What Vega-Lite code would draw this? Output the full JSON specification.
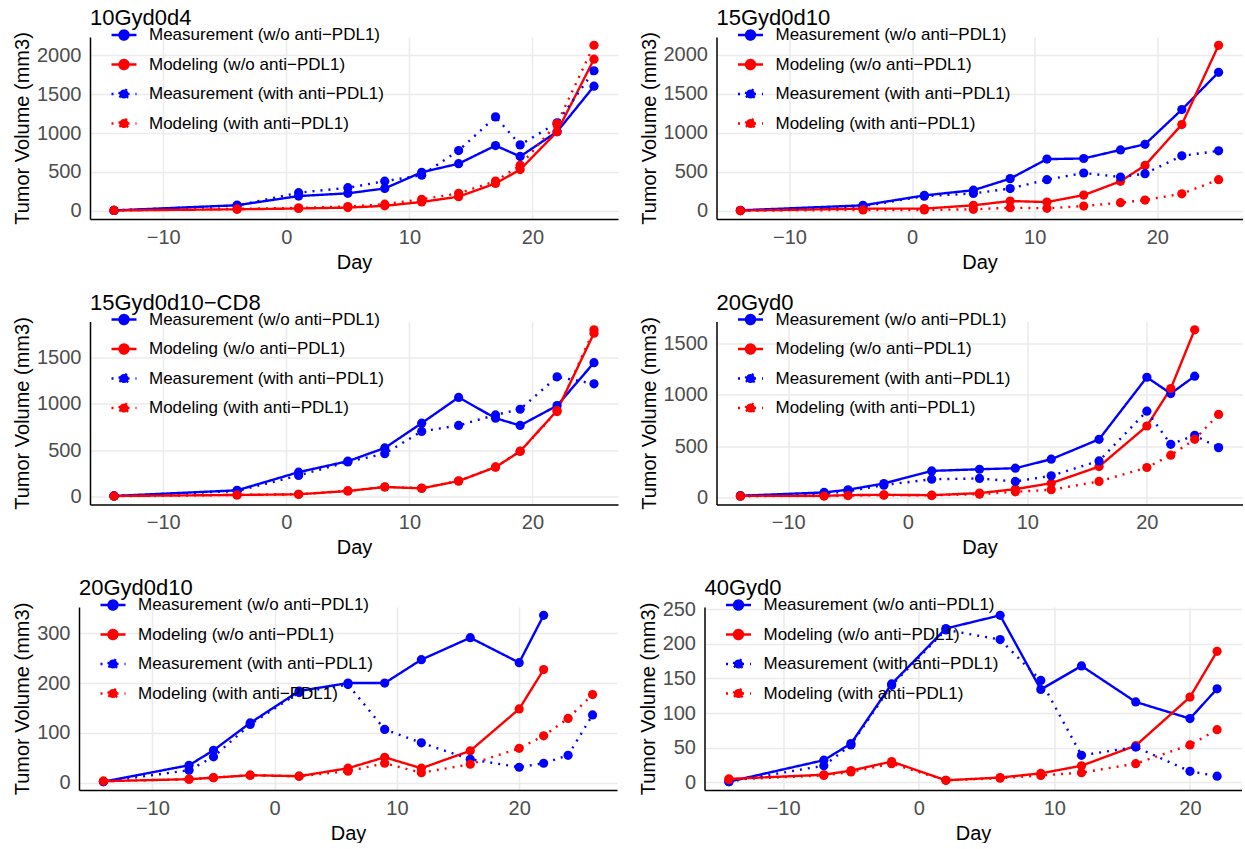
{
"$schema": "https://vega.github.io/schema/vega-lite/v6.json",
"padding": {"left": -9.5, "top": 7, "right": 0, "bottom": 0},
"background": "white",
"config": {
 "view": {"stroke": null},
 "font": "Liberation Sans",
 "axis": {"ticks": false, "tickSize": 0, "domainColor": "black", "domainWidth": 1.5, "labelFontSize": 20, "labelColor": "#4D4D4D", "labelFont": "Liberation Sans", "titleFont": "Liberation Sans", "titleFontSize": 20, "titleFontWeight": "normal", "titleColor": "black", "gridColor": "#EBEBEB", "labelFlush": false, "labelOverlap": false},
 "axisX": {"labelPadding": 8, "titlePadding": 5},
 "axisY": {"labelPadding": 9, "titlePadding": 4},
 "legend": {"labelFontSize": 17, "labelColor": "black", "labelFont": "Liberation Sans", "symbolType": "M-1,0L1,0M-0.36,0A0.36,0.36,0,1,1,0.36,0A0.36,0.36,0,1,1,-0.36,0Z", "symbolSize": 625, "symbolStrokeWidth": 2.4, "rowPadding": 5.5, "labelOffset": 11, "padding": 0, "labelLimit": 500},
 "title": {"fontSize": 22, "fontWeight": "normal", "anchor": "start", "frame": "group", "offset": -9, "baseline": "alphabetic", "color": "black", "font": "Liberation Sans"}
},
"data": {"values": [
{"panel":"10Gyd0d4","series":"Measurement (w/o anti−PDL1)","day":-14,"volume":5},
{"panel":"10Gyd0d4","series":"Measurement (w/o anti−PDL1)","day":-4,"volume":72},
{"panel":"10Gyd0d4","series":"Measurement (w/o anti−PDL1)","day":1,"volume":190},
{"panel":"10Gyd0d4","series":"Measurement (w/o anti−PDL1)","day":5,"volume":225},
{"panel":"10Gyd0d4","series":"Measurement (w/o anti−PDL1)","day":8,"volume":288},
{"panel":"10Gyd0d4","series":"Measurement (w/o anti−PDL1)","day":11,"volume":496},
{"panel":"10Gyd0d4","series":"Measurement (w/o anti−PDL1)","day":14,"volume":606},
{"panel":"10Gyd0d4","series":"Measurement (w/o anti−PDL1)","day":17,"volume":839},
{"panel":"10Gyd0d4","series":"Measurement (w/o anti−PDL1)","day":19,"volume":699},
{"panel":"10Gyd0d4","series":"Measurement (w/o anti−PDL1)","day":22,"volume":1017},
{"panel":"10Gyd0d4","series":"Measurement (w/o anti−PDL1)","day":25,"volume":1602},
{"panel":"10Gyd0d4","series":"Modeling (w/o anti−PDL1)","day":-14,"volume":5},
{"panel":"10Gyd0d4","series":"Modeling (w/o anti−PDL1)","day":-4,"volume":20},
{"panel":"10Gyd0d4","series":"Modeling (w/o anti−PDL1)","day":1,"volume":30},
{"panel":"10Gyd0d4","series":"Modeling (w/o anti−PDL1)","day":5,"volume":42},
{"panel":"10Gyd0d4","series":"Modeling (w/o anti−PDL1)","day":8,"volume":64},
{"panel":"10Gyd0d4","series":"Modeling (w/o anti−PDL1)","day":11,"volume":114},
{"panel":"10Gyd0d4","series":"Modeling (w/o anti−PDL1)","day":14,"volume":182},
{"panel":"10Gyd0d4","series":"Modeling (w/o anti−PDL1)","day":17,"volume":352},
{"panel":"10Gyd0d4","series":"Modeling (w/o anti−PDL1)","day":19,"volume":530},
{"panel":"10Gyd0d4","series":"Modeling (w/o anti−PDL1)","day":22,"volume":1017},
{"panel":"10Gyd0d4","series":"Modeling (w/o anti−PDL1)","day":25,"volume":1950},
{"panel":"10Gyd0d4","series":"Measurement (with anti−PDL1)","day":-14,"volume":5},
{"panel":"10Gyd0d4","series":"Measurement (with anti−PDL1)","day":-4,"volume":68},
{"panel":"10Gyd0d4","series":"Measurement (with anti−PDL1)","day":1,"volume":233},
{"panel":"10Gyd0d4","series":"Measurement (with anti−PDL1)","day":5,"volume":297},
{"panel":"10Gyd0d4","series":"Measurement (with anti−PDL1)","day":8,"volume":381},
{"panel":"10Gyd0d4","series":"Measurement (with anti−PDL1)","day":11,"volume":458},
{"panel":"10Gyd0d4","series":"Measurement (with anti−PDL1)","day":14,"volume":775},
{"panel":"10Gyd0d4","series":"Measurement (with anti−PDL1)","day":17,"volume":1208},
{"panel":"10Gyd0d4","series":"Measurement (with anti−PDL1)","day":19,"volume":848},
{"panel":"10Gyd0d4","series":"Measurement (with anti−PDL1)","day":22,"volume":1131},
{"panel":"10Gyd0d4","series":"Measurement (with anti−PDL1)","day":25,"volume":1801},
{"panel":"10Gyd0d4","series":"Modeling (with anti−PDL1)","day":-14,"volume":5},
{"panel":"10Gyd0d4","series":"Modeling (with anti−PDL1)","day":-4,"volume":25},
{"panel":"10Gyd0d4","series":"Modeling (with anti−PDL1)","day":1,"volume":38},
{"panel":"10Gyd0d4","series":"Modeling (with anti−PDL1)","day":5,"volume":55},
{"panel":"10Gyd0d4","series":"Modeling (with anti−PDL1)","day":8,"volume":85},
{"panel":"10Gyd0d4","series":"Modeling (with anti−PDL1)","day":11,"volume":148},
{"panel":"10Gyd0d4","series":"Modeling (with anti−PDL1)","day":14,"volume":225},
{"panel":"10Gyd0d4","series":"Modeling (with anti−PDL1)","day":17,"volume":382},
{"panel":"10Gyd0d4","series":"Modeling (with anti−PDL1)","day":19,"volume":585},
{"panel":"10Gyd0d4","series":"Modeling (with anti−PDL1)","day":22,"volume":1123},
{"panel":"10Gyd0d4","series":"Modeling (with anti−PDL1)","day":25,"volume":2129},

{"panel":"15Gyd0d10","series":"Measurement (w/o anti−PDL1)","day":-14,"volume":8},
{"panel":"15Gyd0d10","series":"Measurement (w/o anti−PDL1)","day":-4,"volume":72},
{"panel":"15Gyd0d10","series":"Measurement (w/o anti−PDL1)","day":1,"volume":199},
{"panel":"15Gyd0d10","series":"Measurement (w/o anti−PDL1)","day":5,"volume":266},
{"panel":"15Gyd0d10","series":"Measurement (w/o anti−PDL1)","day":8,"volume":414},
{"panel":"15Gyd0d10","series":"Measurement (w/o anti−PDL1)","day":11,"volume":664},
{"panel":"15Gyd0d10","series":"Measurement (w/o anti−PDL1)","day":14,"volume":672},
{"panel":"15Gyd0d10","series":"Measurement (w/o anti−PDL1)","day":17,"volume":782},
{"panel":"15Gyd0d10","series":"Measurement (w/o anti−PDL1)","day":19,"volume":854},
{"panel":"15Gyd0d10","series":"Measurement (w/o anti−PDL1)","day":22,"volume":1298},
{"panel":"15Gyd0d10","series":"Measurement (w/o anti−PDL1)","day":25,"volume":1776},
{"panel":"15Gyd0d10","series":"Modeling (w/o anti−PDL1)","day":-14,"volume":5},
{"panel":"15Gyd0d10","series":"Modeling (w/o anti−PDL1)","day":-4,"volume":30},
{"panel":"15Gyd0d10","series":"Modeling (w/o anti−PDL1)","day":1,"volume":30},
{"panel":"15Gyd0d10","series":"Modeling (w/o anti−PDL1)","day":5,"volume":72},
{"panel":"15Gyd0d10","series":"Modeling (w/o anti−PDL1)","day":8,"volume":127},
{"panel":"15Gyd0d10","series":"Modeling (w/o anti−PDL1)","day":11,"volume":114},
{"panel":"15Gyd0d10","series":"Modeling (w/o anti−PDL1)","day":14,"volume":203},
{"panel":"15Gyd0d10","series":"Modeling (w/o anti−PDL1)","day":17,"volume":380},
{"panel":"15Gyd0d10","series":"Modeling (w/o anti−PDL1)","day":19,"volume":583},
{"panel":"15Gyd0d10","series":"Modeling (w/o anti−PDL1)","day":22,"volume":1107},
{"panel":"15Gyd0d10","series":"Modeling (w/o anti−PDL1)","day":25,"volume":2122},
{"panel":"15Gyd0d10","series":"Measurement (with anti−PDL1)","day":-14,"volume":5},
{"panel":"15Gyd0d10","series":"Measurement (with anti−PDL1)","day":-4,"volume":60},
{"panel":"15Gyd0d10","series":"Measurement (with anti−PDL1)","day":1,"volume":190},
{"panel":"15Gyd0d10","series":"Measurement (with anti−PDL1)","day":5,"volume":224},
{"panel":"15Gyd0d10","series":"Measurement (with anti−PDL1)","day":8,"volume":287},
{"panel":"15Gyd0d10","series":"Measurement (with anti−PDL1)","day":11,"volume":401},
{"panel":"15Gyd0d10","series":"Measurement (with anti−PDL1)","day":14,"volume":486},
{"panel":"15Gyd0d10","series":"Measurement (with anti−PDL1)","day":17,"volume":435},
{"panel":"15Gyd0d10","series":"Measurement (with anti−PDL1)","day":19,"volume":478},
{"panel":"15Gyd0d10","series":"Measurement (with anti−PDL1)","day":22,"volume":706},
{"panel":"15Gyd0d10","series":"Measurement (with anti−PDL1)","day":25,"volume":770},
{"panel":"15Gyd0d10","series":"Modeling (with anti−PDL1)","day":-14,"volume":3},
{"panel":"15Gyd0d10","series":"Modeling (with anti−PDL1)","day":-4,"volume":13},
{"panel":"15Gyd0d10","series":"Modeling (with anti−PDL1)","day":1,"volume":13},
{"panel":"15Gyd0d10","series":"Modeling (with anti−PDL1)","day":5,"volume":21},
{"panel":"15Gyd0d10","series":"Modeling (with anti−PDL1)","day":8,"volume":42},
{"panel":"15Gyd0d10","series":"Modeling (with anti−PDL1)","day":11,"volume":34},
{"panel":"15Gyd0d10","series":"Modeling (with anti−PDL1)","day":14,"volume":63},
{"panel":"15Gyd0d10","series":"Modeling (with anti−PDL1)","day":17,"volume":106},
{"panel":"15Gyd0d10","series":"Modeling (with anti−PDL1)","day":19,"volume":140},
{"panel":"15Gyd0d10","series":"Modeling (with anti−PDL1)","day":22,"volume":220},
{"panel":"15Gyd0d10","series":"Modeling (with anti−PDL1)","day":25,"volume":401},

{"panel":"15Gyd0d10-CD8","series":"Measurement (w/o anti−PDL1)","day":-14,"volume":7},
{"panel":"15Gyd0d10-CD8","series":"Measurement (w/o anti−PDL1)","day":-4,"volume":68},
{"panel":"15Gyd0d10-CD8","series":"Measurement (w/o anti−PDL1)","day":1,"volume":264},
{"panel":"15Gyd0d10-CD8","series":"Measurement (w/o anti−PDL1)","day":5,"volume":382},
{"panel":"15Gyd0d10-CD8","series":"Measurement (w/o anti−PDL1)","day":8,"volume":525},
{"panel":"15Gyd0d10-CD8","series":"Measurement (w/o anti−PDL1)","day":11,"volume":793},
{"panel":"15Gyd0d10-CD8","series":"Measurement (w/o anti−PDL1)","day":14,"volume":1071},
{"panel":"15Gyd0d10-CD8","series":"Measurement (w/o anti−PDL1)","day":17,"volume":846},
{"panel":"15Gyd0d10-CD8","series":"Measurement (w/o anti−PDL1)","day":19,"volume":768},
{"panel":"15Gyd0d10-CD8","series":"Measurement (w/o anti−PDL1)","day":22,"volume":982},
{"panel":"15Gyd0d10-CD8","series":"Measurement (w/o anti−PDL1)","day":25,"volume":1446},
{"panel":"15Gyd0d10-CD8","series":"Modeling (w/o anti−PDL1)","day":-14,"volume":7},
{"panel":"15Gyd0d10-CD8","series":"Modeling (w/o anti−PDL1)","day":-4,"volume":18},
{"panel":"15Gyd0d10-CD8","series":"Modeling (w/o anti−PDL1)","day":1,"volume":25},
{"panel":"15Gyd0d10-CD8","series":"Modeling (w/o anti−PDL1)","day":5,"volume":61},
{"panel":"15Gyd0d10-CD8","series":"Modeling (w/o anti−PDL1)","day":8,"volume":104},
{"panel":"15Gyd0d10-CD8","series":"Modeling (w/o anti−PDL1)","day":11,"volume":89},
{"panel":"15Gyd0d10-CD8","series":"Modeling (w/o anti−PDL1)","day":14,"volume":168},
{"panel":"15Gyd0d10-CD8","series":"Modeling (w/o anti−PDL1)","day":17,"volume":318},
{"panel":"15Gyd0d10-CD8","series":"Modeling (w/o anti−PDL1)","day":19,"volume":489},
{"panel":"15Gyd0d10-CD8","series":"Modeling (w/o anti−PDL1)","day":22,"volume":929},
{"panel":"15Gyd0d10-CD8","series":"Modeling (w/o anti−PDL1)","day":25,"volume":1764},
{"panel":"15Gyd0d10-CD8","series":"Measurement (with anti−PDL1)","day":-14,"volume":7},
{"panel":"15Gyd0d10-CD8","series":"Measurement (with anti−PDL1)","day":-4,"volume":60},
{"panel":"15Gyd0d10-CD8","series":"Measurement (with anti−PDL1)","day":1,"volume":229},
{"panel":"15Gyd0d10-CD8","series":"Measurement (with anti−PDL1)","day":5,"volume":375},
{"panel":"15Gyd0d10-CD8","series":"Measurement (with anti−PDL1)","day":8,"volume":464},
{"panel":"15Gyd0d10-CD8","series":"Measurement (with anti−PDL1)","day":11,"volume":704},
{"panel":"15Gyd0d10-CD8","series":"Measurement (with anti−PDL1)","day":14,"volume":768},
{"panel":"15Gyd0d10-CD8","series":"Measurement (with anti−PDL1)","day":17,"volume":882},
{"panel":"15Gyd0d10-CD8","series":"Measurement (with anti−PDL1)","day":19,"volume":943},
{"panel":"15Gyd0d10-CD8","series":"Measurement (with anti−PDL1)","day":22,"volume":1293},
{"panel":"15Gyd0d10-CD8","series":"Measurement (with anti−PDL1)","day":25,"volume":1218},
{"panel":"15Gyd0d10-CD8","series":"Modeling (with anti−PDL1)","day":-14,"volume":5},
{"panel":"15Gyd0d10-CD8","series":"Modeling (with anti−PDL1)","day":-4,"volume":18},
{"panel":"15Gyd0d10-CD8","series":"Modeling (with anti−PDL1)","day":1,"volume":25},
{"panel":"15Gyd0d10-CD8","series":"Modeling (with anti−PDL1)","day":5,"volume":62},
{"panel":"15Gyd0d10-CD8","series":"Modeling (with anti−PDL1)","day":8,"volume":105},
{"panel":"15Gyd0d10-CD8","series":"Modeling (with anti−PDL1)","day":11,"volume":92},
{"panel":"15Gyd0d10-CD8","series":"Modeling (with anti−PDL1)","day":14,"volume":170},
{"panel":"15Gyd0d10-CD8","series":"Modeling (with anti−PDL1)","day":17,"volume":320},
{"panel":"15Gyd0d10-CD8","series":"Modeling (with anti−PDL1)","day":19,"volume":490},
{"panel":"15Gyd0d10-CD8","series":"Modeling (with anti−PDL1)","day":22,"volume":918},
{"panel":"15Gyd0d10-CD8","series":"Modeling (with anti−PDL1)","day":25,"volume":1800},

{"panel":"20Gyd0","series":"Measurement (w/o anti−PDL1)","day":-14,"volume":16},
{"panel":"20Gyd0","series":"Measurement (w/o anti−PDL1)","day":-7,"volume":49},
{"panel":"20Gyd0","series":"Measurement (w/o anti−PDL1)","day":-5,"volume":75},
{"panel":"20Gyd0","series":"Measurement (w/o anti−PDL1)","day":-2,"volume":136},
{"panel":"20Gyd0","series":"Measurement (w/o anti−PDL1)","day":2,"volume":259},
{"panel":"20Gyd0","series":"Measurement (w/o anti−PDL1)","day":6,"volume":275},
{"panel":"20Gyd0","series":"Measurement (w/o anti−PDL1)","day":9,"volume":285},
{"panel":"20Gyd0","series":"Measurement (w/o anti−PDL1)","day":12,"volume":373},
{"panel":"20Gyd0","series":"Measurement (w/o anti−PDL1)","day":16,"volume":567},
{"panel":"20Gyd0","series":"Measurement (w/o anti−PDL1)","day":20,"volume":1173},
{"panel":"20Gyd0","series":"Measurement (w/o anti−PDL1)","day":22,"volume":1014},
{"panel":"20Gyd0","series":"Measurement (w/o anti−PDL1)","day":24,"volume":1183},
{"panel":"20Gyd0","series":"Modeling (w/o anti−PDL1)","day":-14,"volume":15},
{"panel":"20Gyd0","series":"Modeling (w/o anti−PDL1)","day":-7,"volume":16},
{"panel":"20Gyd0","series":"Modeling (w/o anti−PDL1)","day":-5,"volume":22},
{"panel":"20Gyd0","series":"Modeling (w/o anti−PDL1)","day":-2,"volume":26},
{"panel":"20Gyd0","series":"Modeling (w/o anti−PDL1)","day":2,"volume":22},
{"panel":"20Gyd0","series":"Modeling (w/o anti−PDL1)","day":6,"volume":42},
{"panel":"20Gyd0","series":"Modeling (w/o anti−PDL1)","day":9,"volume":81},
{"panel":"20Gyd0","series":"Modeling (w/o anti−PDL1)","day":12,"volume":139},
{"panel":"20Gyd0","series":"Modeling (w/o anti−PDL1)","day":16,"volume":301},
{"panel":"20Gyd0","series":"Modeling (w/o anti−PDL1)","day":20,"volume":697},
{"panel":"20Gyd0","series":"Modeling (w/o anti−PDL1)","day":22,"volume":1063},
{"panel":"20Gyd0","series":"Modeling (w/o anti−PDL1)","day":24,"volume":1636},
{"panel":"20Gyd0","series":"Measurement (with anti−PDL1)","day":-14,"volume":15},
{"panel":"20Gyd0","series":"Measurement (with anti−PDL1)","day":-7,"volume":35},
{"panel":"20Gyd0","series":"Measurement (with anti−PDL1)","day":-5,"volume":60},
{"panel":"20Gyd0","series":"Measurement (with anti−PDL1)","day":-2,"volume":120},
{"panel":"20Gyd0","series":"Measurement (with anti−PDL1)","day":2,"volume":178},
{"panel":"20Gyd0","series":"Measurement (with anti−PDL1)","day":6,"volume":185},
{"panel":"20Gyd0","series":"Measurement (with anti−PDL1)","day":9,"volume":156},
{"panel":"20Gyd0","series":"Measurement (with anti−PDL1)","day":12,"volume":211},
{"panel":"20Gyd0","series":"Measurement (with anti−PDL1)","day":16,"volume":356},
{"panel":"20Gyd0","series":"Measurement (with anti−PDL1)","day":20,"volume":842},
{"panel":"20Gyd0","series":"Measurement (with anti−PDL1)","day":22,"volume":518},
{"panel":"20Gyd0","series":"Measurement (with anti−PDL1)","day":24,"volume":606},
{"panel":"20Gyd0","series":"Measurement (with anti−PDL1)","day":26,"volume":486},
{"panel":"20Gyd0","series":"Modeling (with anti−PDL1)","day":-14,"volume":12},
{"panel":"20Gyd0","series":"Modeling (with anti−PDL1)","day":-7,"volume":13},
{"panel":"20Gyd0","series":"Modeling (with anti−PDL1)","day":-5,"volume":18},
{"panel":"20Gyd0","series":"Modeling (with anti−PDL1)","day":-2,"volume":22},
{"panel":"20Gyd0","series":"Modeling (with anti−PDL1)","day":2,"volume":20},
{"panel":"20Gyd0","series":"Modeling (with anti−PDL1)","day":6,"volume":32},
{"panel":"20Gyd0","series":"Modeling (with anti−PDL1)","day":9,"volume":55},
{"panel":"20Gyd0","series":"Modeling (with anti−PDL1)","day":12,"volume":75},
{"panel":"20Gyd0","series":"Modeling (with anti−PDL1)","day":16,"volume":156},
{"panel":"20Gyd0","series":"Modeling (with anti−PDL1)","day":20,"volume":292},
{"panel":"20Gyd0","series":"Modeling (with anti−PDL1)","day":22,"volume":412},
{"panel":"20Gyd0","series":"Modeling (with anti−PDL1)","day":24,"volume":567},
{"panel":"20Gyd0","series":"Modeling (with anti−PDL1)","day":26,"volume":810},

{"panel":"20Gyd0d10","series":"Measurement (w/o anti−PDL1)","day":-14,"volume":2},
{"panel":"20Gyd0d10","series":"Measurement (w/o anti−PDL1)","day":-7,"volume":35},
{"panel":"20Gyd0d10","series":"Measurement (w/o anti−PDL1)","day":-5,"volume":65},
{"panel":"20Gyd0d10","series":"Measurement (w/o anti−PDL1)","day":-2,"volume":120},
{"panel":"20Gyd0d10","series":"Measurement (w/o anti−PDL1)","day":2,"volume":184},
{"panel":"20Gyd0d10","series":"Measurement (w/o anti−PDL1)","day":6,"volume":200},
{"panel":"20Gyd0d10","series":"Measurement (w/o anti−PDL1)","day":9,"volume":200},
{"panel":"20Gyd0d10","series":"Measurement (w/o anti−PDL1)","day":12,"volume":247},
{"panel":"20Gyd0d10","series":"Measurement (w/o anti−PDL1)","day":16,"volume":291},
{"panel":"20Gyd0d10","series":"Measurement (w/o anti−PDL1)","day":20,"volume":241},
{"panel":"20Gyd0d10","series":"Measurement (w/o anti−PDL1)","day":22,"volume":336},
{"panel":"20Gyd0d10","series":"Modeling (w/o anti−PDL1)","day":-14,"volume":3},
{"panel":"20Gyd0d10","series":"Modeling (w/o anti−PDL1)","day":-7,"volume":7},
{"panel":"20Gyd0d10","series":"Modeling (w/o anti−PDL1)","day":-5,"volume":10},
{"panel":"20Gyd0d10","series":"Modeling (w/o anti−PDL1)","day":-2,"volume":15},
{"panel":"20Gyd0d10","series":"Modeling (w/o anti−PDL1)","day":2,"volume":13},
{"panel":"20Gyd0d10","series":"Modeling (w/o anti−PDL1)","day":6,"volume":29},
{"panel":"20Gyd0d10","series":"Modeling (w/o anti−PDL1)","day":9,"volume":51},
{"panel":"20Gyd0d10","series":"Modeling (w/o anti−PDL1)","day":12,"volume":29},
{"panel":"20Gyd0d10","series":"Modeling (w/o anti−PDL1)","day":16,"volume":64},
{"panel":"20Gyd0d10","series":"Modeling (w/o anti−PDL1)","day":20,"volume":148},
{"panel":"20Gyd0d10","series":"Modeling (w/o anti−PDL1)","day":22,"volume":227},
{"panel":"20Gyd0d10","series":"Measurement (with anti−PDL1)","day":-14,"volume":2},
{"panel":"20Gyd0d10","series":"Measurement (with anti−PDL1)","day":-7,"volume":25},
{"panel":"20Gyd0d10","series":"Measurement (with anti−PDL1)","day":-5,"volume":52},
{"panel":"20Gyd0d10","series":"Measurement (with anti−PDL1)","day":-2,"volume":117},
{"panel":"20Gyd0d10","series":"Measurement (with anti−PDL1)","day":2,"volume":181},
{"panel":"20Gyd0d10","series":"Measurement (with anti−PDL1)","day":6,"volume":197},
{"panel":"20Gyd0d10","series":"Measurement (with anti−PDL1)","day":9,"volume":107},
{"panel":"20Gyd0d10","series":"Measurement (with anti−PDL1)","day":12,"volume":80},
{"panel":"20Gyd0d10","series":"Measurement (with anti−PDL1)","day":16,"volume":47},
{"panel":"20Gyd0d10","series":"Measurement (with anti−PDL1)","day":20,"volume":31},
{"panel":"20Gyd0d10","series":"Measurement (with anti−PDL1)","day":22,"volume":39},
{"panel":"20Gyd0d10","series":"Measurement (with anti−PDL1)","day":24,"volume":55},
{"panel":"20Gyd0d10","series":"Measurement (with anti−PDL1)","day":26,"volume":136},
{"panel":"20Gyd0d10","series":"Modeling (with anti−PDL1)","day":-14,"volume":3},
{"panel":"20Gyd0d10","series":"Modeling (with anti−PDL1)","day":-7,"volume":7},
{"panel":"20Gyd0d10","series":"Modeling (with anti−PDL1)","day":-5,"volume":10},
{"panel":"20Gyd0d10","series":"Modeling (with anti−PDL1)","day":-2,"volume":15},
{"panel":"20Gyd0d10","series":"Modeling (with anti−PDL1)","day":2,"volume":13},
{"panel":"20Gyd0d10","series":"Modeling (with anti−PDL1)","day":6,"volume":23},
{"panel":"20Gyd0d10","series":"Modeling (with anti−PDL1)","day":9,"volume":39},
{"panel":"20Gyd0d10","series":"Modeling (with anti−PDL1)","day":12,"volume":20},
{"panel":"20Gyd0d10","series":"Modeling (with anti−PDL1)","day":16,"volume":37},
{"panel":"20Gyd0d10","series":"Modeling (with anti−PDL1)","day":20,"volume":69},
{"panel":"20Gyd0d10","series":"Modeling (with anti−PDL1)","day":22,"volume":94},
{"panel":"20Gyd0d10","series":"Modeling (with anti−PDL1)","day":24,"volume":129},
{"panel":"20Gyd0d10","series":"Modeling (with anti−PDL1)","day":26,"volume":177},

{"panel":"40Gyd0","series":"Measurement (w/o anti−PDL1)","day":-14,"volume":1},
{"panel":"40Gyd0","series":"Measurement (w/o anti−PDL1)","day":-7,"volume":32},
{"panel":"40Gyd0","series":"Measurement (w/o anti−PDL1)","day":-5,"volume":56},
{"panel":"40Gyd0","series":"Measurement (w/o anti−PDL1)","day":-2,"volume":142},
{"panel":"40Gyd0","series":"Measurement (w/o anti−PDL1)","day":2,"volume":222},
{"panel":"40Gyd0","series":"Measurement (w/o anti−PDL1)","day":6,"volume":241},
{"panel":"40Gyd0","series":"Measurement (w/o anti−PDL1)","day":9,"volume":134},
{"panel":"40Gyd0","series":"Measurement (w/o anti−PDL1)","day":12,"volume":168},
{"panel":"40Gyd0","series":"Measurement (w/o anti−PDL1)","day":16,"volume":116},
{"panel":"40Gyd0","series":"Measurement (w/o anti−PDL1)","day":20,"volume":92},
{"panel":"40Gyd0","series":"Measurement (w/o anti−PDL1)","day":22,"volume":135},
{"panel":"40Gyd0","series":"Modeling (w/o anti−PDL1)","day":-14,"volume":5},
{"panel":"40Gyd0","series":"Modeling (w/o anti−PDL1)","day":-7,"volume":11},
{"panel":"40Gyd0","series":"Modeling (w/o anti−PDL1)","day":-5,"volume":17},
{"panel":"40Gyd0","series":"Modeling (w/o anti−PDL1)","day":-2,"volume":30},
{"panel":"40Gyd0","series":"Modeling (w/o anti−PDL1)","day":2,"volume":3},
{"panel":"40Gyd0","series":"Modeling (w/o anti−PDL1)","day":6,"volume":7},
{"panel":"40Gyd0","series":"Modeling (w/o anti−PDL1)","day":9,"volume":13},
{"panel":"40Gyd0","series":"Modeling (w/o anti−PDL1)","day":12,"volume":24},
{"panel":"40Gyd0","series":"Modeling (w/o anti−PDL1)","day":16,"volume":53},
{"panel":"40Gyd0","series":"Modeling (w/o anti−PDL1)","day":20,"volume":123},
{"panel":"40Gyd0","series":"Modeling (w/o anti−PDL1)","day":22,"volume":189},
{"panel":"40Gyd0","series":"Measurement (with anti−PDL1)","day":-14,"volume":1},
{"panel":"40Gyd0","series":"Measurement (with anti−PDL1)","day":-7,"volume":24},
{"panel":"40Gyd0","series":"Measurement (with anti−PDL1)","day":-5,"volume":54},
{"panel":"40Gyd0","series":"Measurement (with anti−PDL1)","day":-2,"volume":140},
{"panel":"40Gyd0","series":"Measurement (with anti−PDL1)","day":2,"volume":220},
{"panel":"40Gyd0","series":"Measurement (with anti−PDL1)","day":6,"volume":206},
{"panel":"40Gyd0","series":"Measurement (with anti−PDL1)","day":9,"volume":147},
{"panel":"40Gyd0","series":"Measurement (with anti−PDL1)","day":12,"volume":39},
{"panel":"40Gyd0","series":"Measurement (with anti−PDL1)","day":16,"volume":51},
{"panel":"40Gyd0","series":"Measurement (with anti−PDL1)","day":20,"volume":16},
{"panel":"40Gyd0","series":"Measurement (with anti−PDL1)","day":22,"volume":9},
{"panel":"40Gyd0","series":"Modeling (with anti−PDL1)","day":-14,"volume":4},
{"panel":"40Gyd0","series":"Modeling (with anti−PDL1)","day":-7,"volume":10},
{"panel":"40Gyd0","series":"Modeling (with anti−PDL1)","day":-5,"volume":15},
{"panel":"40Gyd0","series":"Modeling (with anti−PDL1)","day":-2,"volume":27},
{"panel":"40Gyd0","series":"Modeling (with anti−PDL1)","day":2,"volume":3},
{"panel":"40Gyd0","series":"Modeling (with anti−PDL1)","day":6,"volume":6},
{"panel":"40Gyd0","series":"Modeling (with anti−PDL1)","day":9,"volume":10},
{"panel":"40Gyd0","series":"Modeling (with anti−PDL1)","day":12,"volume":14},
{"panel":"40Gyd0","series":"Modeling (with anti−PDL1)","day":16,"volume":27},
{"panel":"40Gyd0","series":"Modeling (with anti−PDL1)","day":20,"volume":54},
{"panel":"40Gyd0","series":"Modeling (with anti−PDL1)","day":22,"volume":76}
]},
"spacing": 19.5,
"resolve": {"scale": {"x": "independent", "y": "independent"}, "legend": {"color": "independent", "strokeDash": "independent"}},
"vconcat": [
{
"hconcat": [
{"width": 1, "height": 1, "transform": [{"filter": {"field": "panel", "equal": "spacer"}}], "mark": {"type": "point", "opacity": 0}, "encoding": {}},
{
 "title": {"text": "10Gyd0d4"},
 "width": 528, "height": 182,
 "transform": [{"filter": {"field": "panel", "equal": "10Gyd0d4"}}],
 "resolve": {"axis": {"x": "independent", "y": "independent"}},
 "layer": [
  {"mark": {"type": "line", "strokeWidth": 2.4, "strokeCap": "butt"},
   "encoding": {
    "x": {"field": "day", "type": "quantitative", "scale": {"domain": [-15.95, 26.95], "nice": false, "zero": false}, "axis": {"orient": "bottom", "values": [-10, 0, 10, 20], "format": "d", "title": "Day", "gridWidth": 1.6}},
    "y": {"field": "volume", "type": "quantitative", "scale": {"domain": [-105, 2235], "nice": false, "zero": false}, "axis": {"orient": "left", "values": [0, 500, 1000, 1500, 2000], "format": "d", "title": "Tumor Volume (mm3)", "gridWidth": 1.6}},
    "color": {"field": "series", "type": "nominal", "scale": {"domain": ["Measurement (w/o anti−PDL1)", "Modeling (w/o anti−PDL1)", "Measurement (with anti−PDL1)", "Modeling (with anti−PDL1)"], "range": ["#0000FF", "#FF0000", "#0000FF", "#FF0000"]}, "legend": {"title": null, "orient": "none", "legendX": 20, "legendY": -16, "encode": {"symbols": {"update": {"fill": {"signal": "indexof(datum.value, 'Meas') === 0 ? '#0000FF' : '#FF0000'"}, "fillOpacity": {"value": 1}}}}}},
    "strokeDash": {"field": "series", "type": "nominal", "scale": {"domain": ["Measurement (w/o anti−PDL1)", "Modeling (w/o anti−PDL1)", "Measurement (with anti−PDL1)", "Modeling (with anti−PDL1)"], "range": [[1, 0], [1, 0], [2, 6], [2, 6]]}, "legend": {"title": null, "orient": "none", "legendX": 20, "legendY": -16, "encode": {"symbols": {"update": {"fill": {"signal": "indexof(datum.value, 'Meas') === 0 ? '#0000FF' : '#FF0000'"}, "fillOpacity": {"value": 1}}}}}}
   }},
  {"mark": {"type": "point", "filled": true, "size": 85, "opacity": 1},
   "encoding": {
    "x": {"field": "day", "type": "quantitative", "axis": {"orient": "bottom", "values": [-15, -5, 5, 15, 25], "title": null, "labels": false, "domain": false, "gridWidth": 0.8}},
    "y": {"field": "volume", "type": "quantitative", "axis": {"orient": "left", "values": [250, 750, 1250, 1750], "title": null, "labels": false, "domain": false, "gridWidth": 0.8}},
    "color": {"field": "series", "type": "nominal", "legend": null}
   }}
 ]
},
{
 "title": {"text": "15Gyd0d10"},
 "width": 526, "height": 182,
 "transform": [{"filter": {"field": "panel", "equal": "15Gyd0d10"}}],
 "resolve": {"axis": {"x": "independent", "y": "independent"}},
 "layer": [
  {"mark": {"type": "line", "strokeWidth": 2.4, "strokeCap": "butt"},
   "encoding": {
    "x": {"field": "day", "type": "quantitative", "scale": {"domain": [-15.95, 26.95], "nice": false, "zero": false}, "axis": {"orient": "bottom", "values": [-10, 0, 10, 20], "format": "d", "title": "Day", "gridWidth": 1.6}},
    "y": {"field": "volume", "type": "quantitative", "scale": {"domain": [-103, 2228], "nice": false, "zero": false}, "axis": {"orient": "left", "values": [0, 500, 1000, 1500, 2000], "format": "d", "title": "Tumor Volume (mm3)", "gridWidth": 1.6}},
    "color": {"field": "series", "type": "nominal", "scale": {"domain": ["Measurement (w/o anti−PDL1)", "Modeling (w/o anti−PDL1)", "Measurement (with anti−PDL1)", "Modeling (with anti−PDL1)"], "range": ["#0000FF", "#FF0000", "#0000FF", "#FF0000"]}, "legend": {"title": null, "orient": "none", "legendX": 20, "legendY": -16, "encode": {"symbols": {"update": {"fill": {"signal": "indexof(datum.value, 'Meas') === 0 ? '#0000FF' : '#FF0000'"}, "fillOpacity": {"value": 1}}}}}},
    "strokeDash": {"field": "series", "type": "nominal", "scale": {"domain": ["Measurement (w/o anti−PDL1)", "Modeling (w/o anti−PDL1)", "Measurement (with anti−PDL1)", "Modeling (with anti−PDL1)"], "range": [[1, 0], [1, 0], [2, 6], [2, 6]]}, "legend": {"title": null, "orient": "none", "legendX": 20, "legendY": -16, "encode": {"symbols": {"update": {"fill": {"signal": "indexof(datum.value, 'Meas') === 0 ? '#0000FF' : '#FF0000'"}, "fillOpacity": {"value": 1}}}}}}
   }},
  {"mark": {"type": "point", "filled": true, "size": 85, "opacity": 1},
   "encoding": {
    "x": {"field": "day", "type": "quantitative", "axis": {"orient": "bottom", "values": [-15, -5, 5, 15, 25], "title": null, "labels": false, "domain": false, "gridWidth": 0.8}},
    "y": {"field": "volume", "type": "quantitative", "axis": {"orient": "left", "values": [250, 750, 1250, 1750], "title": null, "labels": false, "domain": false, "gridWidth": 0.8}},
    "color": {"field": "series", "type": "nominal", "legend": null}
   }}
 ]
}
],
"spacing": 20.5,
"resolve": {"scale": {"x": "independent", "y": "independent"}, "legend": {"color": "independent", "strokeDash": "independent"}}
},
{
"hconcat": [
{"width": 1, "height": 1, "transform": [{"filter": {"field": "panel", "equal": "spacer"}}], "mark": {"type": "point", "opacity": 0}, "encoding": {}},
{
 "title": {"text": "15Gyd0d10−CD8"},
 "width": 528, "height": 183,
 "transform": [{"filter": {"field": "panel", "equal": "15Gyd0d10-CD8"}}],
 "resolve": {"axis": {"x": "independent", "y": "independent"}},
 "layer": [
  {"mark": {"type": "line", "strokeWidth": 2.4, "strokeCap": "butt"},
   "encoding": {
    "x": {"field": "day", "type": "quantitative", "scale": {"domain": [-15.95, 26.95], "nice": false, "zero": false}, "axis": {"orient": "bottom", "values": [-10, 0, 10, 20], "format": "d", "title": "Day", "gridWidth": 1.6}},
    "y": {"field": "volume", "type": "quantitative", "scale": {"domain": [-85, 1890], "nice": false, "zero": false}, "axis": {"orient": "left", "values": [0, 500, 1000, 1500], "format": "d", "title": "Tumor Volume (mm3)", "gridWidth": 1.6}},
    "color": {"field": "series", "type": "nominal", "scale": {"domain": ["Measurement (w/o anti−PDL1)", "Modeling (w/o anti−PDL1)", "Measurement (with anti−PDL1)", "Modeling (with anti−PDL1)"], "range": ["#0000FF", "#FF0000", "#0000FF", "#FF0000"]}, "legend": {"title": null, "orient": "none", "legendX": 20, "legendY": -16, "encode": {"symbols": {"update": {"fill": {"signal": "indexof(datum.value, 'Meas') === 0 ? '#0000FF' : '#FF0000'"}, "fillOpacity": {"value": 1}}}}}},
    "strokeDash": {"field": "series", "type": "nominal", "scale": {"domain": ["Measurement (w/o anti−PDL1)", "Modeling (w/o anti−PDL1)", "Measurement (with anti−PDL1)", "Modeling (with anti−PDL1)"], "range": [[1, 0], [1, 0], [2, 6], [2, 6]]}, "legend": {"title": null, "orient": "none", "legendX": 20, "legendY": -16, "encode": {"symbols": {"update": {"fill": {"signal": "indexof(datum.value, 'Meas') === 0 ? '#0000FF' : '#FF0000'"}, "fillOpacity": {"value": 1}}}}}}
   }},
  {"mark": {"type": "point", "filled": true, "size": 85, "opacity": 1},
   "encoding": {
    "x": {"field": "day", "type": "quantitative", "axis": {"orient": "bottom", "values": [-15, -5, 5, 15, 25], "title": null, "labels": false, "domain": false, "gridWidth": 0.8}},
    "y": {"field": "volume", "type": "quantitative", "axis": {"orient": "left", "values": [250, 750, 1250, 1750], "title": null, "labels": false, "domain": false, "gridWidth": 0.8}},
    "color": {"field": "series", "type": "nominal", "legend": null}
   }}
 ]
},
{
 "title": {"text": "20Gyd0"},
 "width": 526, "height": 183,
 "transform": [{"filter": {"field": "panel", "equal": "20Gyd0"}}],
 "resolve": {"axis": {"x": "independent", "y": "independent"}},
 "layer": [
  {"mark": {"type": "line", "strokeWidth": 2.4, "strokeCap": "butt"},
   "encoding": {
    "x": {"field": "day", "type": "quantitative", "scale": {"domain": [-16, 28], "nice": false, "zero": false}, "axis": {"orient": "bottom", "values": [-10, 0, 10, 20], "format": "d", "title": "Day", "gridWidth": 1.6}},
    "y": {"field": "volume", "type": "quantitative", "scale": {"domain": [-69, 1717], "nice": false, "zero": false}, "axis": {"orient": "left", "values": [0, 500, 1000, 1500], "format": "d", "title": "Tumor Volume (mm3)", "gridWidth": 1.6}},
    "color": {"field": "series", "type": "nominal", "scale": {"domain": ["Measurement (w/o anti−PDL1)", "Modeling (w/o anti−PDL1)", "Measurement (with anti−PDL1)", "Modeling (with anti−PDL1)"], "range": ["#0000FF", "#FF0000", "#0000FF", "#FF0000"]}, "legend": {"title": null, "orient": "none", "legendX": 20, "legendY": -16, "encode": {"symbols": {"update": {"fill": {"signal": "indexof(datum.value, 'Meas') === 0 ? '#0000FF' : '#FF0000'"}, "fillOpacity": {"value": 1}}}}}},
    "strokeDash": {"field": "series", "type": "nominal", "scale": {"domain": ["Measurement (w/o anti−PDL1)", "Modeling (w/o anti−PDL1)", "Measurement (with anti−PDL1)", "Modeling (with anti−PDL1)"], "range": [[1, 0], [1, 0], [2, 6], [2, 6]]}, "legend": {"title": null, "orient": "none", "legendX": 20, "legendY": -16, "encode": {"symbols": {"update": {"fill": {"signal": "indexof(datum.value, 'Meas') === 0 ? '#0000FF' : '#FF0000'"}, "fillOpacity": {"value": 1}}}}}}
   }},
  {"mark": {"type": "point", "filled": true, "size": 85, "opacity": 1},
   "encoding": {
    "x": {"field": "day", "type": "quantitative", "axis": {"orient": "bottom", "values": [-15, -5, 5, 15, 25], "title": null, "labels": false, "domain": false, "gridWidth": 0.8}},
    "y": {"field": "volume", "type": "quantitative", "axis": {"orient": "left", "values": [250, 750, 1250], "title": null, "labels": false, "domain": false, "gridWidth": 0.8}},
    "color": {"field": "series", "type": "nominal", "legend": null}
   }}
 ]
}
],
"spacing": 20.5,
"resolve": {"scale": {"x": "independent", "y": "independent"}, "legend": {"color": "independent", "strokeDash": "independent"}}
},
{
"hconcat": [
{"width": 1, "height": 1, "transform": [{"filter": {"field": "panel", "equal": "spacer"}}], "mark": {"type": "point", "opacity": 0}, "encoding": {}},
{
 "title": {"text": "20Gyd0d10"},
 "width": 538, "height": 183,
 "transform": [{"filter": {"field": "panel", "equal": "20Gyd0d10"}}],
 "resolve": {"axis": {"x": "independent", "y": "independent"}},
 "layer": [
  {"mark": {"type": "line", "strokeWidth": 2.4, "strokeCap": "butt"},
   "encoding": {
    "x": {"field": "day", "type": "quantitative", "scale": {"domain": [-16, 28], "nice": false, "zero": false}, "axis": {"orient": "bottom", "values": [-10, 0, 10, 20], "format": "d", "title": "Day", "gridWidth": 1.6}},
    "y": {"field": "volume", "type": "quantitative", "scale": {"domain": [-14.7, 352.7], "nice": false, "zero": false}, "axis": {"orient": "left", "values": [0, 100, 200, 300], "format": "d", "title": "Tumor Volume (mm3)", "gridWidth": 1.6}},
    "color": {"field": "series", "type": "nominal", "scale": {"domain": ["Measurement (w/o anti−PDL1)", "Modeling (w/o anti−PDL1)", "Measurement (with anti−PDL1)", "Modeling (with anti−PDL1)"], "range": ["#0000FF", "#FF0000", "#0000FF", "#FF0000"]}, "legend": {"title": null, "orient": "none", "legendX": 20, "legendY": -16, "encode": {"symbols": {"update": {"fill": {"signal": "indexof(datum.value, 'Meas') === 0 ? '#0000FF' : '#FF0000'"}, "fillOpacity": {"value": 1}}}}}},
    "strokeDash": {"field": "series", "type": "nominal", "scale": {"domain": ["Measurement (w/o anti−PDL1)", "Modeling (w/o anti−PDL1)", "Measurement (with anti−PDL1)", "Modeling (with anti−PDL1)"], "range": [[1, 0], [1, 0], [2, 6], [2, 6]]}, "legend": {"title": null, "orient": "none", "legendX": 20, "legendY": -16, "encode": {"symbols": {"update": {"fill": {"signal": "indexof(datum.value, 'Meas') === 0 ? '#0000FF' : '#FF0000'"}, "fillOpacity": {"value": 1}}}}}}
   }},
  {"mark": {"type": "point", "filled": true, "size": 85, "opacity": 1},
   "encoding": {
    "x": {"field": "day", "type": "quantitative", "axis": {"orient": "bottom", "values": [-15, -5, 5, 15, 25], "title": null, "labels": false, "domain": false, "gridWidth": 0.8}},
    "y": {"field": "volume", "type": "quantitative", "axis": {"orient": "left", "values": [50, 150, 250, 350], "title": null, "labels": false, "domain": false, "gridWidth": 0.8}},
    "color": {"field": "series", "type": "nominal", "legend": null}
   }}
 ]
},
{
 "title": {"text": "40Gyd0"},
 "width": 537, "height": 183,
 "transform": [{"filter": {"field": "panel", "equal": "40Gyd0"}}],
 "resolve": {"axis": {"x": "independent", "y": "independent"}},
 "layer": [
  {"mark": {"type": "line", "strokeWidth": 2.4, "strokeCap": "butt"},
   "encoding": {
    "x": {"field": "day", "type": "quantitative", "scale": {"domain": [-15.8, 23.8], "nice": false, "zero": false}, "axis": {"orient": "bottom", "values": [-10, 0, 10, 20], "format": "d", "title": "Day", "gridWidth": 1.6}},
    "y": {"field": "volume", "type": "quantitative", "scale": {"domain": [-11, 253], "nice": false, "zero": false}, "axis": {"orient": "left", "values": [0, 50, 100, 150, 200, 250], "format": "d", "title": "Tumor Volume (mm3)", "gridWidth": 1.6}},
    "color": {"field": "series", "type": "nominal", "scale": {"domain": ["Measurement (w/o anti−PDL1)", "Modeling (w/o anti−PDL1)", "Measurement (with anti−PDL1)", "Modeling (with anti−PDL1)"], "range": ["#0000FF", "#FF0000", "#0000FF", "#FF0000"]}, "legend": {"title": null, "orient": "none", "legendX": 20, "legendY": -16, "encode": {"symbols": {"update": {"fill": {"signal": "indexof(datum.value, 'Meas') === 0 ? '#0000FF' : '#FF0000'"}, "fillOpacity": {"value": 1}}}}}},
    "strokeDash": {"field": "series", "type": "nominal", "scale": {"domain": ["Measurement (w/o anti−PDL1)", "Modeling (w/o anti−PDL1)", "Measurement (with anti−PDL1)", "Modeling (with anti−PDL1)"], "range": [[1, 0], [1, 0], [2, 6], [2, 6]]}, "legend": {"title": null, "orient": "none", "legendX": 20, "legendY": -16, "encode": {"symbols": {"update": {"fill": {"signal": "indexof(datum.value, 'Meas') === 0 ? '#0000FF' : '#FF0000'"}, "fillOpacity": {"value": 1}}}}}}
   }},
  {"mark": {"type": "point", "filled": true, "size": 85, "opacity": 1},
   "encoding": {
    "x": {"field": "day", "type": "quantitative", "axis": {"orient": "bottom", "values": [-15, -5, 5, 15], "title": null, "labels": false, "domain": false, "gridWidth": 0.8}},
    "y": {"field": "volume", "type": "quantitative", "axis": {"orient": "left", "values": [25, 75, 125, 175, 225], "title": null, "labels": false, "domain": false, "gridWidth": 0.8}},
    "color": {"field": "series", "type": "nominal", "legend": null}
   }}
 ]
}
],
"spacing": 20.5,
"resolve": {"scale": {"x": "independent", "y": "independent"}, "legend": {"color": "independent", "strokeDash": "independent"}}
}
]
}
